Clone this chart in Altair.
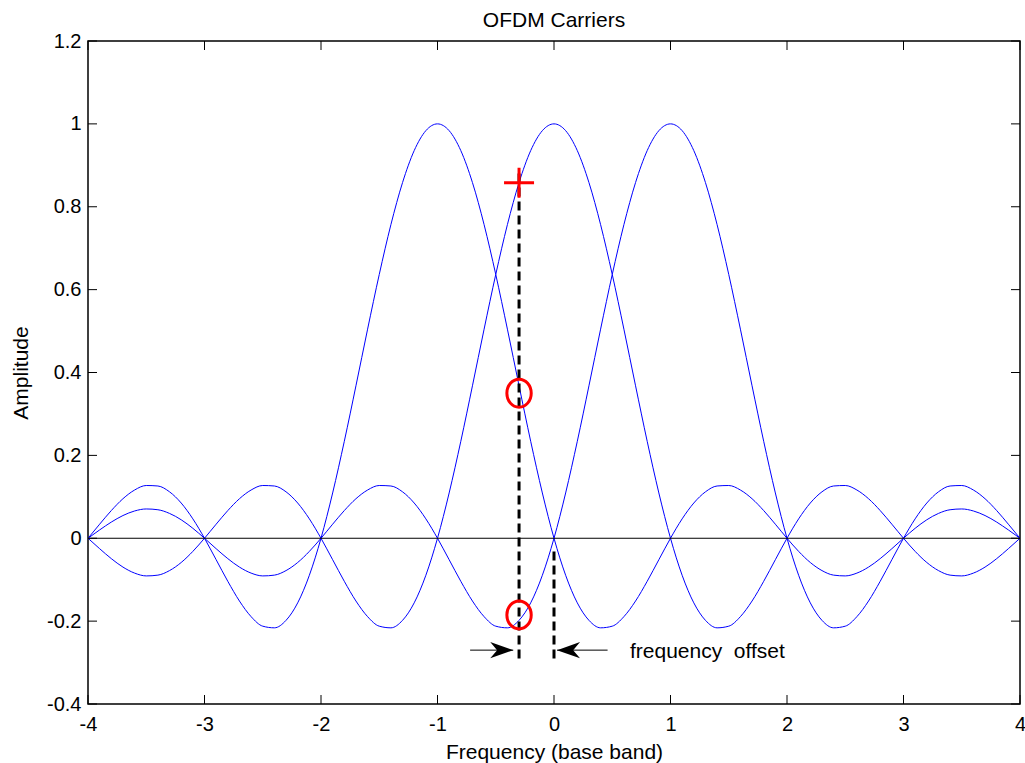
import altair as alt
import pandas as pd

FONT = "Liberation Sans"

# Frequency grid (base band, carrier spacing = 1)
freq = [round(-4 + 0.1 * i, 1) for i in range(81)]

# Carrier centred at 0
carrier_0 = [
    0.0000, -0.0252, -0.0492, -0.0696, -0.0841, -0.0909, -0.0890, -0.0780, -0.0585, -0.0317,
    0.0000, 0.0339, 0.0668, 0.0954, 0.1164, 0.1273, 0.1261, 0.1120, 0.0850, 0.0468,
    0.0000, -0.0518, -0.1039, -0.1515, -0.1892, -0.2122, -0.2162, -0.1981, -0.1559, -0.0894,
    0.0000, 0.1093, 0.2339, 0.3679, 0.5046, 0.6366, 0.7568, 0.8584, 0.9355, 0.9836,
    1.0000,
    0.9836, 0.9355, 0.8584, 0.7568, 0.6366, 0.5046, 0.3679, 0.2339, 0.1093, 0.0000,
    -0.0894, -0.1559, -0.1981, -0.2162, -0.2122, -0.1892, -0.1515, -0.1039, -0.0518, 0.0000,
    0.0468, 0.0850, 0.1120, 0.1261, 0.1273, 0.1164, 0.0954, 0.0668, 0.0339, 0.0000,
    -0.0317, -0.0585, -0.0780, -0.0890, -0.0909, -0.0841, -0.0696, -0.0492, -0.0252, 0.0000,
]

# Carrier centred at +1
carrier_p1 = [
    0.0000, 0.0201, 0.0390, 0.0548, 0.0658, 0.0707, 0.0688, 0.0599, 0.0446, 0.0240,
    0.0000, -0.0252, -0.0492, -0.0696, -0.0841, -0.0909, -0.0890, -0.0780, -0.0585, -0.0317,
    0.0000, 0.0339, 0.0668, 0.0954, 0.1164, 0.1273, 0.1261, 0.1120, 0.0850, 0.0468,
    0.0000, -0.0518, -0.1039, -0.1515, -0.1892, -0.2122, -0.2162, -0.1981, -0.1559, -0.0894,
    0.0000, 0.1093, 0.2339, 0.3679, 0.5046, 0.6366, 0.7568, 0.8584, 0.9355, 0.9836,
    1.0000,
    0.9836, 0.9355, 0.8584, 0.7568, 0.6366, 0.5046, 0.3679, 0.2339, 0.1093, 0.0000,
    -0.0894, -0.1559, -0.1981, -0.2162, -0.2122, -0.1892, -0.1515, -0.1039, -0.0518, 0.0000,
    0.0468, 0.0850, 0.1120, 0.1261, 0.1273, 0.1164, 0.0954, 0.0668, 0.0339, 0.0000,
]

# Carrier centred at -1
carrier_m1 = [
    0.0000, 0.0339, 0.0668, 0.0954, 0.1164, 0.1273, 0.1261, 0.1120, 0.0850, 0.0468,
    0.0000, -0.0518, -0.1039, -0.1515, -0.1892, -0.2122, -0.2162, -0.1981, -0.1559, -0.0894,
    0.0000, 0.1093, 0.2339, 0.3679, 0.5046, 0.6366, 0.7568, 0.8584, 0.9355, 0.9836,
    1.0000,
    0.9836, 0.9355, 0.8584, 0.7568, 0.6366, 0.5046, 0.3679, 0.2339, 0.1093, 0.0000,
    -0.0894, -0.1559, -0.1981, -0.2162, -0.2122, -0.1892, -0.1515, -0.1039, -0.0518, 0.0000,
    0.0468, 0.0850, 0.1120, 0.1261, 0.1273, 0.1164, 0.0954, 0.0668, 0.0339, 0.0000,
    -0.0317, -0.0585, -0.0780, -0.0890, -0.0909, -0.0841, -0.0696, -0.0492, -0.0252, 0.0000,
    0.0240, 0.0446, 0.0599, 0.0688, 0.0707, 0.0658, 0.0548, 0.0390, 0.0201, 0.0000,
]

x_ticks = [-4, -3, -2, -1, 0, 1, 2, 3, 4]
y_ticks = [-0.4, -0.2, 0, 0.2, 0.4, 0.6, 0.8, 1, 1.2]

# Sampling instant offset from the carrier centre
dash_x = [-0.3, 0.0]
dash_lo = [-0.29, -0.29]
dash_hi = [0.88, -0.02]

# Sampled value of the wanted carrier (+) and the interfering carriers (o)
plus_x, plus_y = [-0.3], [0.858]
ring_x, ring_y = [-0.3, -0.3], [0.35, -0.185]

# "frequency offset" arrows: tail, tip, height
arrow_tail = [-0.72, 0.46]
arrow_tip = [-0.35, 0.026]
arrow_y = [-0.27, -0.27]
arrow_angle = [0, 180]
note_x, note_y = [0.652], [-0.29]
note_text = ["frequency \u00a0offset"]

W, H = 932, 663

xs = alt.Scale(domain=[-4, 4], nice=False, zero=False)
ys = alt.Scale(domain=[-0.4, 1.2], nice=False, zero=False)

x_axis = alt.Axis(
    values=x_ticks, labelExpr="'' + datum.value", labelFlush=False,
    labelOverlap=False, labelPadding=10, title="Frequency (base band)",
    titleY=54, titleBaseline="alphabetic",
)
y_axis = alt.Axis(
    values=y_ticks, labelExpr="'' + datum.value", labelOverlap=False,
    labelPadding=7, title="Amplitude", titleX=-61, titleY=H / 2,
    titleBaseline="alphabetic",
)


def X(field, **kw):
    return alt.X(field, type="quantitative", scale=xs, axis=x_axis, **kw)


def Y(field, **kw):
    return alt.Y(field, type="quantitative", scale=ys, axis=y_axis, **kw)


curves = pd.DataFrame({
    "f": freq * 3,
    "a": carrier_m1 + carrier_0 + carrier_p1,
    "c": ["m1"] * 81 + ["c0"] * 81 + ["p1"] * 81,
})

carrier_lines = alt.Chart(curves).mark_line(
    color="#0000ff", strokeWidth=1, interpolate="monotone", clip=True
).encode(x=X("f"), y=Y("a"), detail="c:N")

zero_line = alt.Chart(pd.DataFrame({"z": [0]})).mark_rule(
    color="black", strokeWidth=1
).encode(y=Y("z"))

dashes = alt.Chart(pd.DataFrame({"x": dash_x, "lo": dash_lo, "hi": dash_hi})).mark_rule(
    color="black", strokeWidth=3, strokeDash=[9, 5]
).encode(x=X("x"), y=Y("lo"), y2="hi")

plus = alt.Chart(pd.DataFrame({"x": plus_x, "y": plus_y})).mark_point(
    shape="M -1 0 L 1 0 M 0 -1 L 0 1", size=900, filled=False,
    color="#ff0000", strokeWidth=3, opacity=1,
).encode(x=X("x"), y=Y("y"))

ellipse = ("M 0.87 0 C 0.87 0.5523 0.4805 1 0 1 C -0.4805 1 -0.87 0.5523 -0.87 0 "
           "C -0.87 -0.5523 -0.4805 -1 0 -1 C 0.4805 -1 0.87 -0.5523 0.87 0 Z")
rings = alt.Chart(pd.DataFrame({"x": ring_x, "y": ring_y})).mark_point(
    shape=ellipse, size=784, filled=False, color="#ff0000",
    strokeWidth=3, opacity=1,
).encode(x=X("x"), y=Y("y"))

arrows_df = pd.DataFrame({
    "tail": arrow_tail, "tip": arrow_tip, "y": arrow_y, "ang": arrow_angle,
})
shafts = alt.Chart(arrows_df).mark_rule(color="black", strokeWidth=1).encode(
    x=X("tail"), x2="tip", y=Y("y")
)
heads = alt.Chart(arrows_df).mark_point(
    shape="M 0 0 L -2 -0.7 L -1.4 0 L -2 0.7 Z", size=529, filled=True,
    color="black", opacity=1, strokeWidth=0,
).encode(
    x=X("tip"), y=Y("y"),
    angle=alt.Angle("ang:Q", scale=None),
)

note = alt.Chart(pd.DataFrame({"x": note_x, "y": note_y, "t": note_text})).mark_text(
    align="left", baseline="alphabetic", font=FONT, fontSize=21, color="black"
).encode(x=X("x"), y=Y("y"), text="t:N")

# Chart title, centred above the box
title = alt.Chart(pd.DataFrame({"t": ["OFDM Carriers"]})).mark_text(
    align="center", baseline="alphabetic", font=FONT, fontSize=21, color="black"
).encode(x=alt.value(W / 2), y=alt.value(-14), text="t:N")

# Inward tick marks on all four sides of the box
TL = 9
xt = pd.DataFrame({"v": x_ticks})
yt = pd.DataFrame({"v": y_ticks})
tick_style = dict(color="black", strokeWidth=1)
ticks_bottom = alt.Chart(xt).mark_rule(**tick_style).encode(
    x=X("v"), y=alt.value(H), y2=alt.value(H - TL))
ticks_top = alt.Chart(xt).mark_rule(**tick_style).encode(
    x=X("v"), y=alt.value(0), y2=alt.value(TL))
ticks_left = alt.Chart(yt).mark_rule(**tick_style).encode(
    y=Y("v"), x=alt.value(0), x2=alt.value(TL))
ticks_right = alt.Chart(yt).mark_rule(**tick_style).encode(
    y=Y("v"), x=alt.value(W), x2=alt.value(W - TL))

chart = alt.layer(
    carrier_lines, zero_line, dashes, plus, rings, shafts, heads, note, title,
    ticks_bottom, ticks_top, ticks_left, ticks_right,
).properties(
    width=W, height=H,
    autosize=alt.AutoSizeParams(type="none"),
    padding={"left": 88, "top": 41, "right": 5, "bottom": 59},
    background="white",
).configure_view(
    stroke="black", strokeWidth=1.5
).configure_axis(
    labelFont=FONT, labelFontSize=20, labelColor="black",
    titleFont=FONT, titleFontSize=21, titleFontWeight="normal", titleColor="black",
    grid=False, ticks=False, domain=False,
)

chart.save("out.html", embed_options={"renderer": "svg", "actions": False})
